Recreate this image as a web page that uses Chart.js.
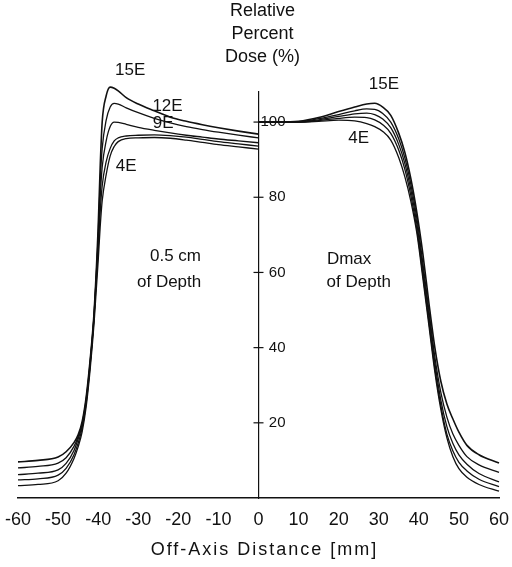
<!DOCTYPE html>
<html>
<head>
<meta charset="utf-8">
<script src="https://cdn.jsdelivr.net/npm/chart.js@4.4.0/dist/chart.umd.min.js"></script>
<style>
    html, body { margin: 0; padding: 0; background: #fff; }
    #doseChart { display: block; }
</style>
</head>
<body>
<canvas id="doseChart" width="512" height="567"></canvas>
<script>
// Off-axis dose profiles, 0.5 cm depth (left half) and Dmax (right half)
const energies = ['4E', '6E', '9E', '12E', '15E'];

const leftX = [-60, -55, -50, -48, -46, -45, -44, -43, -42, -41, -40, -39.5, -39, -38, -37, -36, -35, -33, -30, -26, -22, -18, -14, -10, -5, 0];
const left4E  = [3.3, 3.6, 4.6, 6.6, 10.6, 13.6, 17.6, 24.2, 34.2, 46.8, 63, 72, 79, 86, 91, 93.5, 94.8, 95.6, 95.8, 95.9, 95.7, 95.2, 94.6, 94, 93.4, 92.8];
const left6E  = [4.8, 5.1, 6.1, 7.9, 11.6, 14.6, 18.6, 25.2, 35.3, 48.3, 66, 76, 83, 89.5, 93, 95, 95.8, 96.3, 96.5, 96.6, 96.4, 96, 95.4, 94.8, 94.2, 93.6];
const left9E  = [6.2, 6.6, 7.5, 9.2, 12.7, 15.7, 19.3, 25.8, 35.8, 48.8, 68, 80, 88, 95, 98.8, 100, 99.9, 99.4, 98.6, 97.8, 97.1, 96.5, 96, 95.5, 95, 94.5];
const left12E = [8, 8.4, 9.3, 10.7, 13.8, 16.3, 19.8, 26.3, 36.3, 49.3, 70, 84, 93, 100.5, 104, 105, 104.8, 103.8, 102.5, 101, 99.8, 98.8, 98, 97.3, 96.5, 95.8];
const left15E = [9.6, 10, 10.9, 12.3, 14.8, 16.8, 20.3, 26.8, 36.8, 49.8, 72, 88, 100, 107, 109.3, 109, 108.3, 106.5, 104.8, 103, 101.3, 100.2, 99.3, 98.5, 97.6, 96.8];

const rightX = [0, 5, 10, 15, 20, 24, 27, 29, 31, 33, 35, 36.5, 38, 39.5, 41, 42.5, 44, 45.5, 47, 48.5, 50, 52, 55, 60];
const right4E  = [100, 100, 100, 100.2, 100.5, 100.3, 99.6, 98.8, 97.5, 95.2, 90.5, 85.5, 79, 70.5, 58.5, 46, 33.5, 23.5, 16, 11, 7.8, 5.5, 3.6, 1.8];
const right6E  = [100, 100, 100, 100.4, 101, 101.3, 101.2, 100.6, 99.3, 97, 92.5, 87.5, 80.5, 71.5, 59.5, 47, 34.5, 24.5, 17, 12.5, 9.5, 7.2, 5, 3];
const right9E  = [100, 100, 100, 100.6, 101.5, 102.2, 102.4, 102, 100.8, 98.5, 94, 89, 82, 73, 61, 48.5, 36, 26, 19, 14.5, 11.5, 9, 6.5, 4.3];
const right12E = [100, 100, 100.1, 100.9, 102, 103, 103.5, 103.4, 102.3, 100, 95.5, 90.5, 83.5, 74.5, 62.5, 50, 37.5, 28, 21.5, 17, 14, 11, 8.8, 6.8];
const right15E = [100, 100, 100.2, 101.2, 102.8, 104, 104.8, 105, 104, 101.8, 97, 92, 85, 76, 65, 52, 40, 31, 25, 21, 17.5, 14, 11.5, 9.3];

const xTickStep = 10;
const yTickValues = [20, 40, 60, 80, 100];
const xTitle = 'Off-Axis Distance [mm]';

const annotations = [
    { text: '15E', x: -32, y: 113.8 },
    { text: '12E', x: -22.7, y: 104.1 },
    { text: '9E', x: -23.8, y: 99.8 },
    { text: '4E', x: -33, y: 88.2 },
    { text: '15E', x: 31.3, y: 110.1 },
    { text: '4E', x: 25, y: 95.6 },
    { text: '0.5 cm', x: -20.7, y: 64.4 },
    { text: 'of Depth', x: -22.3, y: 57.4 },
    { text: 'Dmax', x: 22.6, y: 63.6 },
    { text: 'of Depth', x: 25, y: 57.4 },
];
const yTitleLines = ['Relative', 'Percent', 'Dose (%)'];

const FONT = "'Liberation Sans', Arial, Helvetica, sans-serif";

const toPoints = (xs, ys) => xs.map((x, i) => ({ x, y: ys[i] }));

const leftSeries = [left4E, left6E, left9E, left12E, left15E];
const rightSeries = [right4E, right6E, right9E, right12E, right15E];

function makeDataset(label, xs, ys, idx) {
    return {
        label,
        data: toPoints(xs, ys),
        borderColor: '#111',
        borderWidth: idx === 4 ? 1.6 : 1.3,
        pointRadius: 0,
        fill: false,
        cubicInterpolationMode: 'monotone',
        clip: false,
    };
}

const datasets = [
    ...energies.map((e, i) => makeDataset(e + ' 0.5 cm', leftX, leftSeries[i], i)),
    ...energies.map((e, i) => makeDataset(e + ' Dmax', rightX, rightSeries[i], i)),
];

// cross-shaped ticks and labels on the centre axis
const centreAxis = {
    id: 'centreAxis',
    afterDraw(chart) {
        const { ctx, scales: { x, y } } = chart;
        const x0 = x.getPixelForValue(0);
        ctx.save();
        ctx.strokeStyle = '#111';
        ctx.fillStyle = '#111';
        ctx.lineWidth = 1.2;
        ctx.font = '15px ' + FONT;
        ctx.textAlign = 'right';
        ctx.textBaseline = 'middle';
        yTickValues.forEach(v => {
            const py = y.getPixelForValue(v);
            ctx.beginPath();
            ctx.moveTo(x0 - 5, py);
            ctx.lineTo(x0 + 5, py);
            ctx.stroke();
            ctx.fillText(String(v), x0 + 27, py);
        });
        ctx.restore();
    },
};

const textLabels = {
    id: 'textLabels',
    afterDraw(chart) {
        const { ctx, scales: { x, y } } = chart;
        ctx.save();
        ctx.fillStyle = '#111';
        ctx.textAlign = 'center';
        ctx.textBaseline = 'middle';
        ctx.font = '17px ' + FONT;
        annotations.forEach(a => {
            ctx.fillText(a.text, x.getPixelForValue(a.x), y.getPixelForValue(a.y));
        });
        // y-axis title stacked above the centre axis
        ctx.font = '18px ' + FONT;
        const tx = x.getPixelForValue(1);
        const top = y.getPixelForValue(129.5);
        yTitleLines.forEach((line, i) => ctx.fillText(line, tx, top + i * 23));

        // x-axis title, printed with wide letter spacing
        ctx.letterSpacing = '2px';
        ctx.fillText(xTitle, x.getPixelForValue(0) + 6, chart.height - 17);
        ctx.restore();
    },
};

new Chart(document.getElementById('doseChart'), {
    type: 'line',
    data: { datasets },
    options: {
        responsive: false,
        animation: false,
        layout: { padding: { left: 18, right: 13, top: 92, bottom: 0 } },
        plugins: { legend: { display: false }, tooltip: { enabled: false } },
        scales: {
            x: {
                type: 'linear',
                min: -60,
                max: 60,
                ticks: { stepSize: xTickStep, color: '#111', font: { family: FONT, size: 18 }, padding: 11 },
                grid: { display: false, drawTicks: false },
                border: { color: '#111', width: 1.5 },
                afterFit(scale) {
                    scale.height = 69;
                    scale.paddingLeft = 0;
                    scale.paddingRight = 0;
                },
            },
            y: {
                type: 'linear',
                min: 0,
                max: 108,
                position: { x: 0 },
                afterBuildTicks(scale) { scale.ticks = yTickValues.map(v => ({ value: v })); },
                ticks: { display: false },
                grid: { display: false, drawTicks: false },
                border: { color: '#111', width: 1.2 },
            },
        },
    },
    plugins: [centreAxis, textLabels],
});
</script>
</body>
</html>
